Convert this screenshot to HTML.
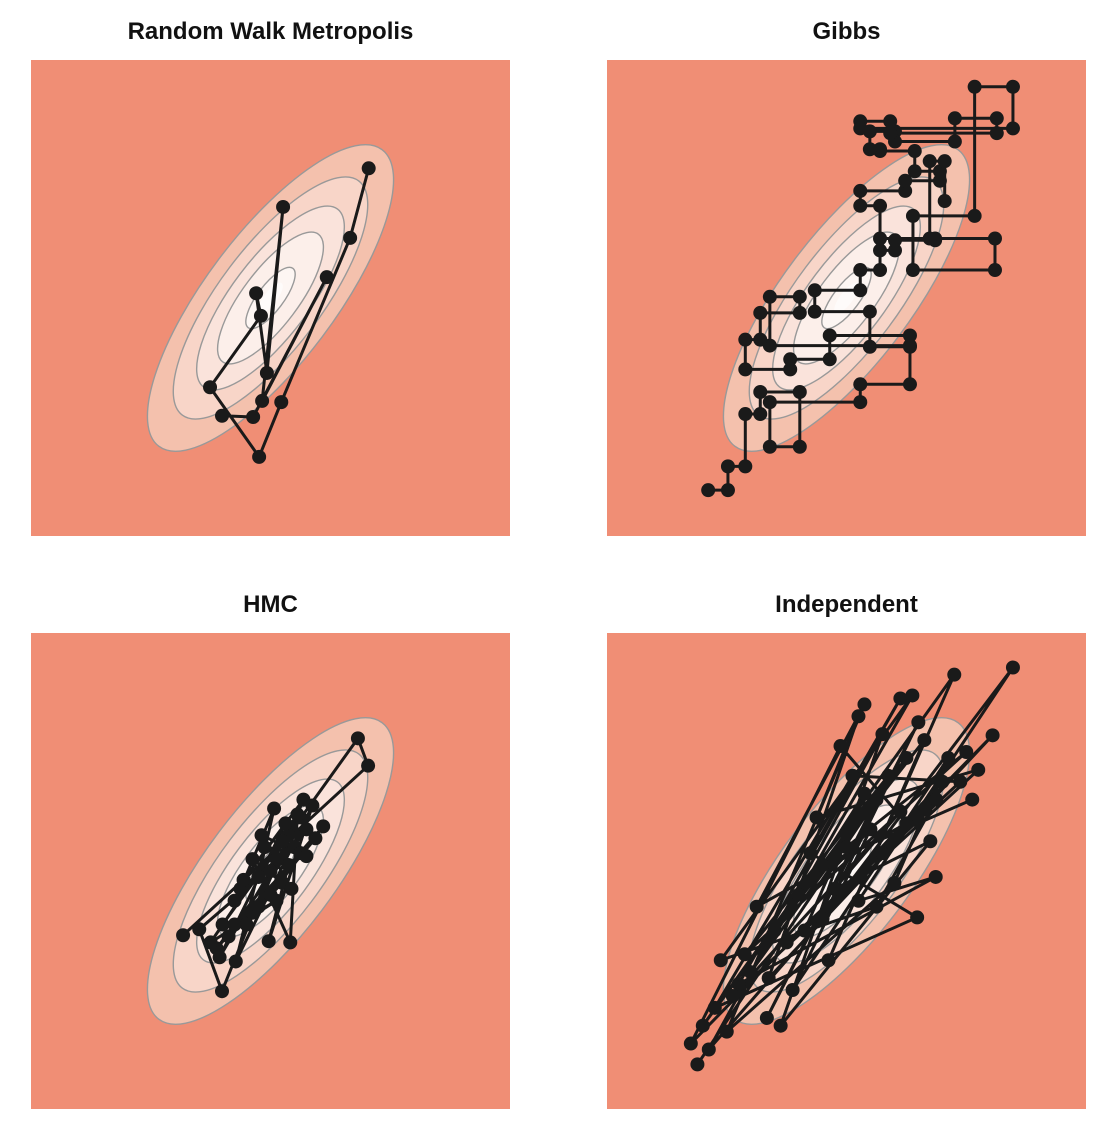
<!DOCTYPE html>
<html><head><meta charset="utf-8"><style>
body{margin:0;background:#fff;width:1112px;height:1146px;overflow:hidden}
svg{display:block}
text{font-family:"Liberation Sans",sans-serif;font-weight:bold;font-size:24px;fill:#111}
</style></head><body>
<svg id="chart" width="1112" height="1146" xmlns="http://www.w3.org/2000/svg"></svg>
<script>
const panelTitles=["Random Walk Metropolis","Gibbs","HMC","Independent"];
const contourLevels=[1,0.79,0.6,0.43,0.2];
const contourFills=["#f4c1ad","#f8d5c8","#fae3db","#fcefea","#fdf6f3"];
const rwmX=[-0.81,-0.29,0.94,-0.14,0.21,-0.06,-0.24,-0.16,-1.01,-0.19,0.18,1.33,1.64];
const rwmY=[-1.98,-2.0,0.35,-1.73,1.53,-1.26,0.08,-0.30,-1.50,-2.67,-1.75,1.01,2.18];
const gibbsX=[-2.31,-1.98,-1.69,-1.44,-0.78,-1.28,0.23,1.06,-1.28,-0.78,-1.44,-1.69,-0.94,-0.28,1.06,0.39,-0.53,0.23,0.56,0.81,1.48,0.56,0.23,0.98,1.56,1.14,0.56,0.39,0.81,1.81,2.51,0.73,0.23,2.78,2.14,1.11,2.48,1.39,1.64];
const gibbsY=[-3.23,-2.83,-1.95,-1.58,-2.5,-1.75,-1.45,-0.8,0.02,-0.25,-0.7,-1.2,-1.03,-0.63,-0.82,-0.23,0.13,0.47,0.8,0.97,1.0,1.55,1.8,1.97,2.13,2.47,2.5,2.8,2.63,3.02,2.77,2.97,2.85,3.55,1.38,0.47,1.0,2.3,1.63];
const hmcX=[-1.46,1.63,1.46,0.3,-0.6,0.1,-0.3,0.5,-0.8,0.2,-0.81,-1.19,0.4,-0.5,0.06,-0.2,0.6,-0.9,0.88,0.0,-0.4,0.3,-0.03,0.7,-0.58,-0.1,0.5,-0.7,0.2,-0.3,0.33,0.45,-1.0,0.1,-0.6,0.75,-0.2,0.55,-0.45,0.25,-0.85,0.0,0.35,-0.15,0.6];
const hmcY=[-1.08,1.77,2.23,0.6,-0.5,0.2,-0.7,0.9,-0.9,0.5,-2.02,-0.98,0.4,-0.3,1.05,-0.1,0.7,-1.3,0.75,-0.4,-0.9,0.1,-1.18,1.1,-1.52,0.4,0.3,-1.1,-0.2,0.2,-1.2,0.95,-1.2,-0.5,-0.9,0.55,-0.6,1.2,-0.15,0.8,-1.45,0.0,-0.3,0.6,0.25];
const indX=[-2.49,0.5,-1.33,1.2,-0.4,2.78,0.2,1.49,-1.8,0.9,-0.6,1.18,-2.2,0.1,1.9,-1.0,0.6,2.44,-2.6,-0.1,1.0,-1.5,0.3,-2.0,0.8,1.7,-0.9,0.4,-1.2,1.3,-0.3,1.8,-2.4,0.7,-1.7,2.0,0.0,-0.8,1.1,-2.1,0.5,1.5,-1.3,0.2,-0.5,2.2,-1.9,0.9,-0.2,1.4,-1.1,0.6,-2.3,1.6,-0.7,0.3,-1.6,1.0,-0.4,2.1];
const indY=[-3.25,1.2,-2.47,2.5,-0.8,3.42,-0.5,-0.1,-1.9,2.9,0.3,-0.78,-2.3,1.6,1.5,-1.2,0.3,2.28,-2.9,2.1,0.8,-0.6,2.8,-2.7,-0.2,1.9,-2.0,0.7,-1.0,2.2,-1.5,3.3,-2.6,1.6,-1.4,2.0,0.4,-0.4,2.95,-1.5,-0.6,1.2,-1.8,2.6,0.9,1.7,-2.1,1.0,-0.3,0.5,-2.6,2.3,-3.0,1.5,-1.0,1.3,-1.7,1.9,0.1,1.2];
const NS="http://www.w3.org/2000/svg";
const svg=document.getElementById('chart');
const panels=[{l:31,t:60},{l:607,t:60},{l:31,t:633},{l:607,t:633}];
const W=479,H=476,dom=[-4,4];
function mk(tag,attrs,parent){const e=document.createElementNS(NS,tag);for(const k in attrs)e.setAttribute(k,attrs[k]);parent.appendChild(e);return e;}
function paths(i){
 if(i===0) return rwmX.map((x,j)=>[x,rwmY[j]]);
 if(i===2) return hmcX.map((x,j)=>[x,hmcY[j]]);
 if(i===3) return indX.map((x,j)=>[x,indY[j]]);
 const p=[[gibbsX[0],gibbsY[0]]];
 for(let j=1;j<gibbsX.length;j++){p.push([gibbsX[j],gibbsY[j-1]]);p.push([gibbsX[j],gibbsY[j]]);}
 return p;
}
panels.forEach((P,i)=>{
 const g=mk('g',{},svg);
 
 
 const sx=v=>P.l+(v-dom[0])/(dom[1]-dom[0])*W;
 const sy=v=>P.t+H-(v-dom[0])/(dom[1]-dom[0])*H;
 const t=mk('text',{x:P.l+W/2,y:P.t-21,'text-anchor':'middle'},g);
 t.textContent=panelTitles[i];
 
 
 const bg=mk('rect',{x:P.l,y:P.t,width:W,height:H,fill:'#f08e75'},g);
 
 
 const cx=sx(0),cy=sy(0),kx=W/8;
 contourLevels.forEach((s,k)=>{
  const e=mk('ellipse',{cx:cx,cy:cy,rx:3.1*kx*s,ry:1.08*kx*s,transform:`rotate(-53 ${cx} ${cy})`,fill:contourFills[k],stroke:'#999',"stroke-width":1.4},g);
  
  
 });
 const inner=mk('ellipse',{cx:cx,cy:cy,rx:3.1*kx*0.1,ry:1.08*kx*0.1,transform:`rotate(-53 ${cx} ${cy})`,fill:'#fefbfa'},g);
 
 
 const pts=paths(i);
 const line=mk('polyline',{points:pts.map(p=>sx(p[0])+','+sy(p[1])).join(' '),fill:'none',stroke:'#1a1a1a','stroke-width':3,'stroke-linejoin':'round'},g);
 
 
 pts.forEach(p=>{
  const c=mk('circle',{cx:sx(p[0]),cy:sy(p[1]),r:7,fill:'#1a1a1a'},g);
  
  
 });
});
</script>
</body></html>
